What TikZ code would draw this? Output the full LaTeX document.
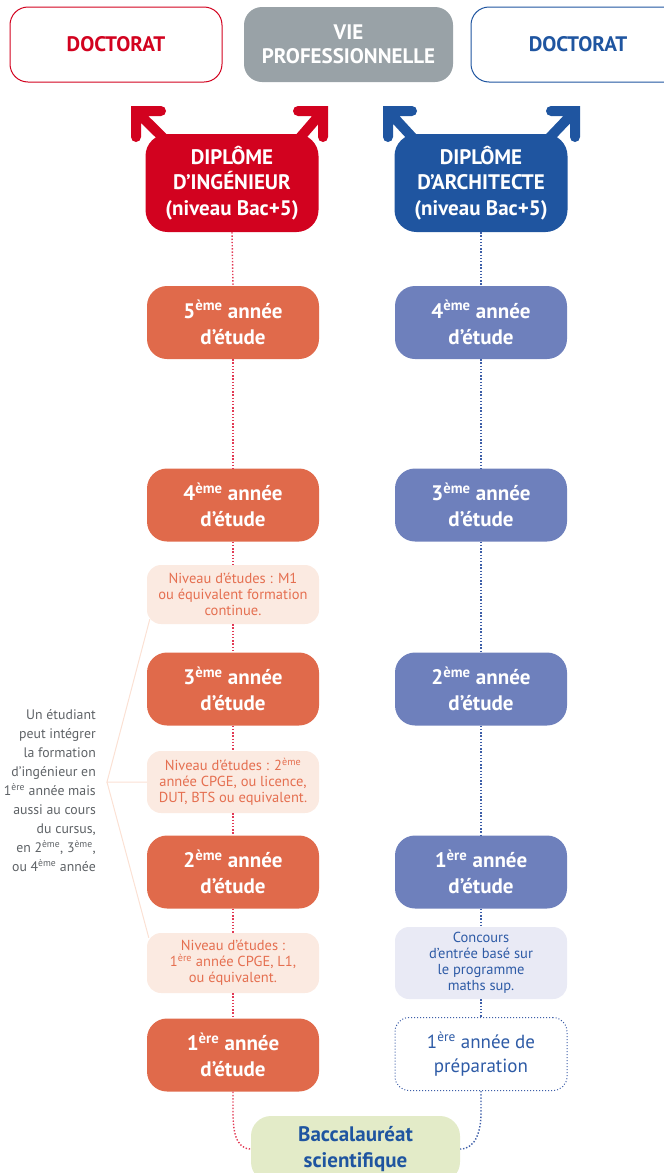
\documentclass[tikz,border=0pt]{standalone}
\usepackage{fontspec}
\setmainfont{PT Sans}
\usepackage{tikz}

\definecolor{ingred}{HTML}{D2021F}
\definecolor{archblue}{HTML}{1F55A0}
\definecolor{vieGray}{HTML}{99A2A7}
\definecolor{yearOrange}{HTML}{E06A4B}
\definecolor{yearBlue}{HTML}{6E80BC}
\definecolor{paleOrange}{HTML}{FBEAE1}
\definecolor{noteOrange}{HTML}{E56F50}
\definecolor{paleBlue}{HTML}{E9EAF5}
\definecolor{noteBlue}{HTML}{2E5BA6}
\definecolor{bacGreen}{HTML}{E3EBC8}
\definecolor{dotRed}{HTML}{E23A55}
\definecolor{dotBlue}{HTML}{3D5EA8}
\definecolor{sideGray}{HTML}{5E6266}
\definecolor{forkLine}{HTML}{FBE1D4}

\tikzset{
  topbox/.style={rounded corners=18pt, minimum width=212pt, minimum height=75pt,
    align=center, font=\bfseries\fontsize{21}{24}\selectfont},
  diplbox/.style={rounded corners=22pt, fill=#1, text=white, minimum width=173pt,
    minimum height=98pt, align=center, font=\bfseries\fontsize{21}{25.5}\selectfont},
  yearbox/.style={rounded corners=20pt, fill=#1, text=white, minimum width=172pt,
    minimum height=73pt, align=center, font=\bfseries\fontsize{21}{26}\selectfont},
  notebox/.style={rounded corners=14pt, minimum width=172pt, align=center,
    font=\fontsize{14.5}{16}\selectfont},
  bigarrow/.style={line width=10pt, line cap=round, line join=miter, #1},
  dotline/.style={line width=1.4pt, dash pattern=on 1.4pt off 1.8pt, #1},
  sidetext/.style={text=sideGray, align=right, font=\fontsize{13.8}{19}\selectfont},
}

\begin{document}
\begin{tikzpicture}[x=1pt, y=-1pt]
  \useasboundingbox (0,0) rectangle (664,1173);
  \clip (0,0) rectangle (664,1173);

  % top row
  \node[topbox, draw=ingred, line width=1pt, text=ingred] (docI) at (116,44.5) {DOCTORAT};
  \node[topbox, fill=vieGray, text=white, minimum width=209pt] (vie) at (348.5,44.5) {VIE\\PROFESSIONNELLE};
  \node[topbox, draw=archblue, line width=1pt, text=archblue, minimum width=214pt] (docA) at (578,44.5) {DOCTORAT};

  % diplomas
  \node[diplbox=ingred] (ing) at (232,183) {DIPLÔME\\D’INGÉNIEUR\\(niveau Bac+5)};
  \node[diplbox=archblue] (arch) at (481,183) {DIPLÔME\\D’ARCHITECTE\\(niveau Bac+5)};

  \coordinate (tipIL) at (136,111);
  \coordinate (tipIR) at (323,111);
  \coordinate (tipAL) at (388,111);
  \coordinate (tipAR) at (575,111);
  \draw[bigarrow=ingred] (161,111) -- (tipIL) -- (136,137) (tipIL) -- ([xshift=24pt,yshift=-10pt]ing.north west);
  \draw[bigarrow=ingred] (298,111) -- (tipIR) -- (323,137) (tipIR) -- ([xshift=-24pt,yshift=-10pt]ing.north east);
  \draw[bigarrow=archblue] (412,111) -- (tipAL) -- (388,137) (tipAL) -- ([xshift=24pt,yshift=-10pt]arch.north west);
  \draw[bigarrow=archblue] (551,111) -- (tipAR) -- (575,137) (tipAR) -- ([xshift=-24pt,yshift=-10pt]arch.north east);

  % engineering track
  \node[yearbox=yearOrange] (y5I) at (233,322.5) {5\textsuperscript{ème} année\\d’étude};
  \node[yearbox=yearOrange] (y4I) at (233,505) {4\textsuperscript{ème} année\\d’étude};
  \node[notebox, fill=paleOrange, text=noteOrange, minimum height=59pt] (m1) at (233,594.5)
    {Niveau d’études : M1\\ou équivalent formation\\continue.};
  \node[yearbox=yearOrange] (y3I) at (233,689) {3\textsuperscript{ème} année\\d’étude};
  \node[notebox, fill=paleOrange, text=noteOrange, minimum height=62pt] (n2) at (233,782)
    {Niveau d’études : 2\textsuperscript{ème}\\année CPGE, ou licence,\\DUT, BTS ou equivalent.};
  \node[yearbox=yearOrange] (y2I) at (233,872) {2\textsuperscript{ème} année\\d’étude};
  \node[notebox, fill=paleOrange, text=noteOrange, minimum height=60pt] (n1) at (233,963)
    {Niveau d’études :\\1\textsuperscript{ère} année CPGE, L1,\\ou équivalent.};
  \node[yearbox=yearOrange] (y1I) at (233,1055) {1\textsuperscript{ère} année\\d’étude};

  % architecture track
  \node[yearbox=yearBlue] (y4A) at (481,322.5) {4\textsuperscript{ème} année\\d’étude};
  \node[yearbox=yearBlue] (y3A) at (481,505) {3\textsuperscript{ème} année\\d’étude};
  \node[yearbox=yearBlue] (y2A) at (481,689) {2\textsuperscript{ème} année\\d’étude};
  \node[yearbox=yearBlue] (y1A) at (481,872) {1\textsuperscript{ère} année\\d’étude};
  \node[notebox, fill=paleBlue, text=noteBlue, minimum height=72pt, font=\fontsize{14.5}{16}\selectfont] (conc) at (481,963)
    {Concours\\d’entrée basé sur\\le programme\\maths sup.};
  \node[notebox, draw=dotBlue, line width=1pt, dash pattern=on 1pt off 2pt,
    text=noteBlue, minimum height=73pt, font=\fontsize{19}{24}\selectfont] (prep) at (481,1054)
    {1\textsuperscript{ère} année de\\préparation};

  \node[rounded corners=20pt, fill=bacGreen, text=archblue, minimum width=209pt, minimum height=66pt,
    align=center, font=\bfseries\fontsize{21}{25.5}\selectfont] (bac) at (355.5,1149)
    {Baccalauréat\\scientifique};

  % dotted links
  \draw[dotline=dotRed] (ing.south) -- (y5I.north);
  \draw[dotline=dotRed] (y5I.south) -- (y4I.north);
  \draw[dotline=dotRed] (y4I.south) -- (m1.north);
  \draw[dotline=dotRed] (m1.south) -- (y3I.north);
  \draw[dotline=dotRed] (y3I.south) -- (n2.north);
  \draw[dotline=dotRed] (n2.south) -- (y2I.north);
  \draw[dotline=dotRed] (y2I.south) -- (n1.north);
  \draw[dotline=dotRed] (n1.south) -- (y1I.north);
  \draw[dotline=dotRed] (y1I.south) -- ++(0,20) to[out=-90, in=180] (bac.west);

  \draw[dotline=dotBlue] (arch.south) -- (y4A.north);
  \draw[dotline=dotBlue] (y4A.south) -- (y3A.north);
  \draw[dotline=dotBlue] (y3A.south) -- (y2A.north);
  \draw[dotline=dotBlue] (y2A.south) -- (y1A.north);
  \draw[dotline=dotBlue] (y1A.south) -- (conc.north);
  \draw[dotline=dotBlue] (conc.south) -- (prep.north);
  \draw[dotline=dotBlue] (prep.south) -- ++(0,22) to[out=-90, in=0] (bac.east);

  % side note
  \node[sidetext, anchor=east, inner sep=0pt] (side) at (96,791)
    {Un étudiant\\peut intégrer\\la formation\\d’ingénieur en\\1\textsuperscript{ère} année mais\\aussi au cours\\du cursus,\\en 2\textsuperscript{ème}, 3\textsuperscript{ème},\\ou 4\textsuperscript{ème} année};
  \coordinate (fork) at (107,782);
  \draw[forkLine, line width=1pt] ([xshift=3pt,yshift=5pt]m1.south west) -- (fork) -- (n2.west);
  \draw[forkLine, line width=1pt] (fork) -- ([xshift=2pt,yshift=-5pt]n1.north west);
\end{tikzpicture}
\end{document}
